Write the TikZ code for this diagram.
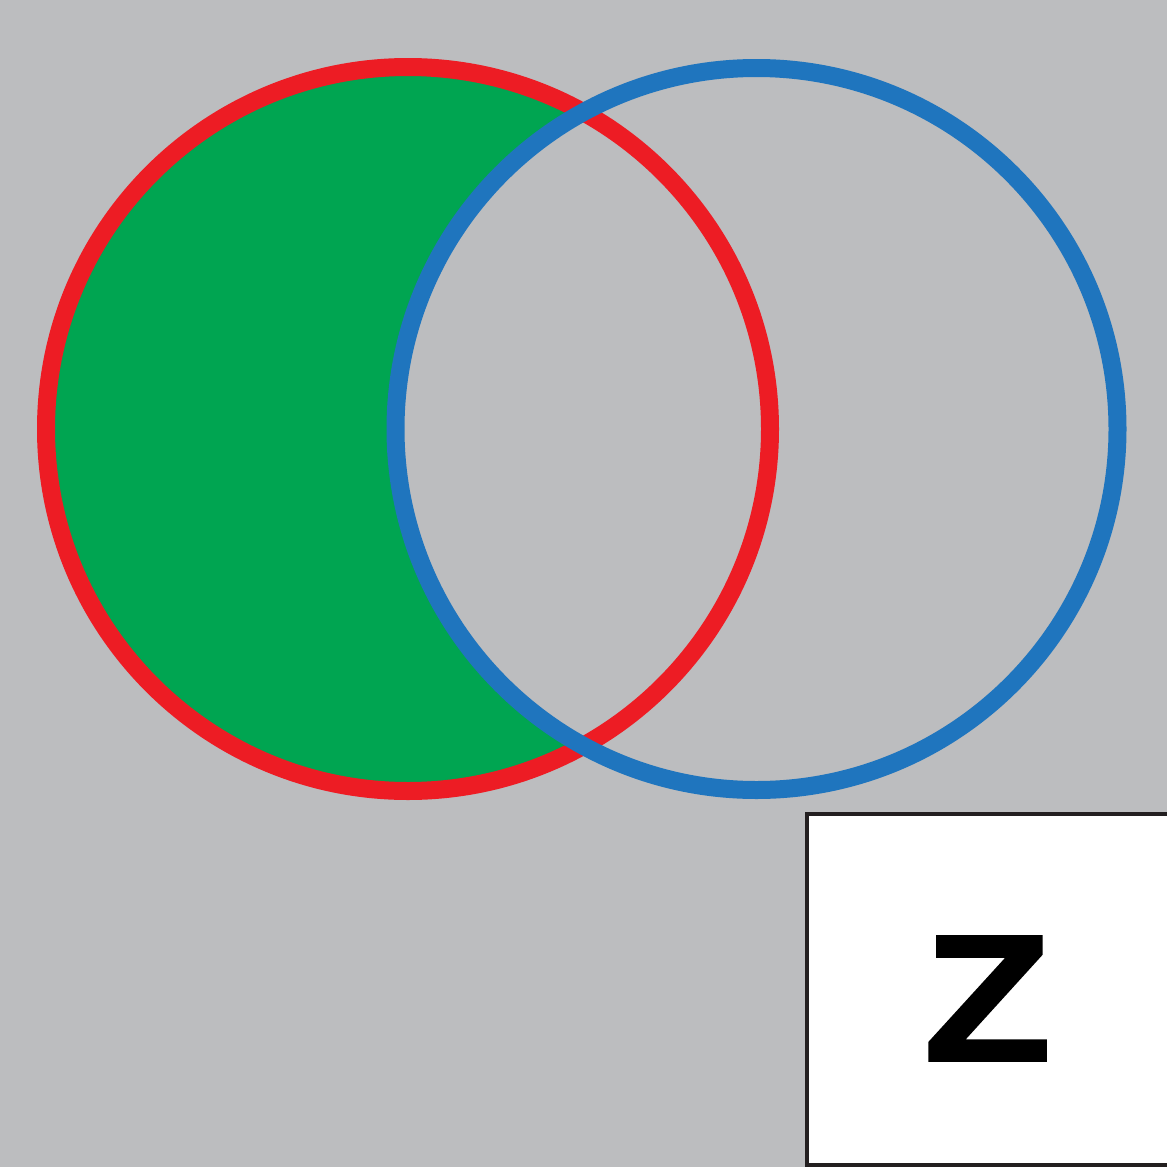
\documentclass[tikz,border=0pt]{standalone}
\usepackage{fontspec}
\setmainfont{Liberation Sans}
\newfontfamily\zfont[FakeBold=1.2]{Liberation Sans Bold}
\definecolor{bg}{HTML}{BCBDBF}
\definecolor{vred}{HTML}{ED1C24}
\definecolor{vblue}{HTML}{1F75BE}
\definecolor{vgreen}{HTML}{00A551}
\definecolor{boxline}{HTML}{231F20}
\begin{document}
\begin{tikzpicture}[x=1pt,y=-1pt,
  ring/.style={circle, inner sep=0pt, minimum size=724pt, line width=18pt},
  labelbox/.style={draw=boxline, fill=white, line width=4pt}]
\useasboundingbox (0,0) rectangle (1167,1167);
\fill[bg] (0,0) rectangle (1167,1167);
% green region: red circle minus blue circle
\begin{scope}
  \clip (408,429) circle[radius=362];
  \fill[vgreen] (408,429) circle[radius=362];
  \fill[bg] (756.5,429) circle[radius=361];
\end{scope}
\node[ring, draw=vred] (A) at (408,429) {};
\node[ring, draw=vblue, minimum size=722pt] (B) at (756.5,429) {};
% label box
\draw[labelbox] (807,814) rectangle (1180,1165);
\node[inner sep=0pt, xscale=1.16, font=\fontsize{181}{181}\zfont] (Z) at (987.5,998.5) {Z};
\end{tikzpicture}
\end{document}
